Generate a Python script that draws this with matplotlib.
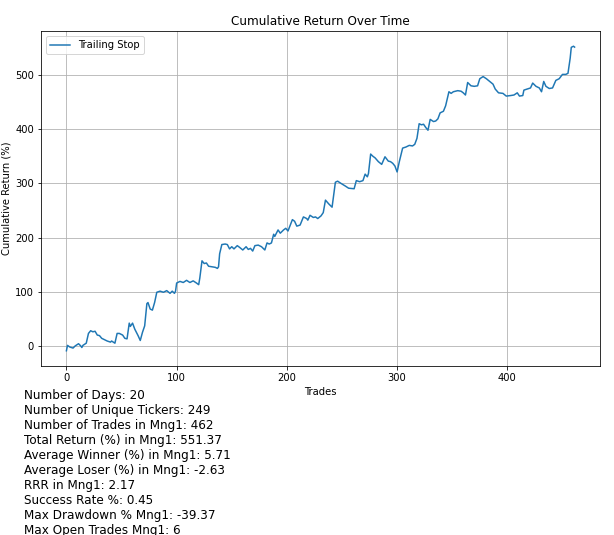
import matplotlib
matplotlib.use("Agg")
import matplotlib.pyplot as plt

# trade index and cumulative return (%)
trades = [0, 1, 3, 6, 8, 11, 13, 14, 15, 18, 20, 22, 24, 26, 28, 30, 32, 35, 37, 40,
          41, 44, 46, 48, 51, 53, 55, 57, 58, 60, 62, 65, 67, 69, 71, 73, 74, 76, 78, 80,
          82, 85, 88, 91, 94, 96, 98, 99, 100, 103, 106, 109, 112, 115, 118, 120, 121, 123, 125, 127,
          129, 132, 135, 137, 138, 139, 141, 144, 146, 148, 150, 152, 155, 157, 160, 163, 165, 167, 169, 171,
          174, 177, 180, 182, 184, 186, 188, 189, 192, 194, 197, 199, 201, 205, 207, 209, 212, 215, 218, 219,
          221, 224, 226, 228, 231, 233, 235, 238, 241, 244, 246, 249, 253, 256, 261, 263, 266, 269, 271, 273,
          274, 276, 278, 280, 283, 286, 289, 292, 294, 296, 298, 300, 302, 305, 308, 311, 314, 316, 318, 320,
          322, 324, 326, 328, 330, 333, 335, 337, 339, 342, 344, 347, 349, 351, 355, 358, 360, 362, 364, 367,
          370, 373, 375, 378, 381, 384, 387, 389, 392, 396, 399, 403, 406, 409, 411, 414, 415, 418, 421, 423,
          426, 429, 431, 433, 435, 438, 441, 444, 447, 450, 453, 455, 457, 458, 460, 461]
cum_return = [-9, 1, -2, -4, 0, 4, 0, -3, 1, 5, 23, 28, 26, 27, 20, 19, 14, 11, 9, 7,
              9, 5, 23, 23, 20, 14, 13, 42, 36, 42, 31, 19, 10, 25, 37, 78, 80, 68, 66, 80,
              99, 101, 99, 102, 97, 101, 97, 101, 116, 119, 117, 121, 117, 120, 116, 113, 125, 157, 152, 153,
              147, 146, 145, 143, 146, 170, 187, 188, 187, 179, 183, 179, 185, 182, 177, 183, 178, 180, 175, 185,
              186, 183, 177, 190, 188, 190, 206, 202, 214, 208, 214, 217, 212, 233, 230, 221, 223, 238, 235, 232,
              241, 237, 238, 235, 240, 246, 269, 262, 256, 302, 304, 300, 295, 291, 290, 305, 303, 305, 317, 312,
              318, 354, 350, 347, 340, 335, 349, 341, 340, 337, 332, 321, 340, 365, 367, 370, 369, 372, 383, 410,
              408, 409, 403, 398, 418, 414, 415, 419, 430, 433, 443, 469, 466, 469, 471, 470, 467, 463, 486, 480,
              479, 480, 493, 497, 493, 488, 483, 474, 467, 466, 461, 462, 463, 467, 461, 462, 472, 474, 476, 485,
              479, 476, 469, 488, 479, 475, 476, 490, 493, 501, 501, 503, 531, 551, 553, 551.37]

stats = [
    "Number of Days: 20",
    "Number of Unique Tickers: 249",
    "Number of Trades in Mng1: 462",
    "Total Return (%) in Mng1: 551.37",
    "Average Winner (%) in Mng1: 5.71",
    "Average Loser (%) in Mng1: -2.63",
    "RRR in Mng1: 2.17",
    "Success Rate %: 0.45",
    "Max Drawdown % Mng1: -39.37",
    "Max Open Trades Mng1: 6",
]

W, H = 614, 535
fig = plt.figure(figsize=(W / 72, H / 72), dpi=72)
ax = fig.add_axes([41 / W, 1 - 366 / H, 559 / W, 335 / H])

ax.plot(trades, cum_return, label="Trailing Stop")
ax.set_title("Cumulative Return Over Time", fontsize=12)
ax.set_xlabel("Trades")
ax.set_ylabel("Cumulative Return (%)")
ax.grid(True)
ax.legend(loc="upper left")

# summary stats printed under the chart
fig.text(24 / W, 1 - 389 / H, "\n".join(stats), fontsize=12, va="top", ha="left")

fig.savefig("out.png", dpi=72)
